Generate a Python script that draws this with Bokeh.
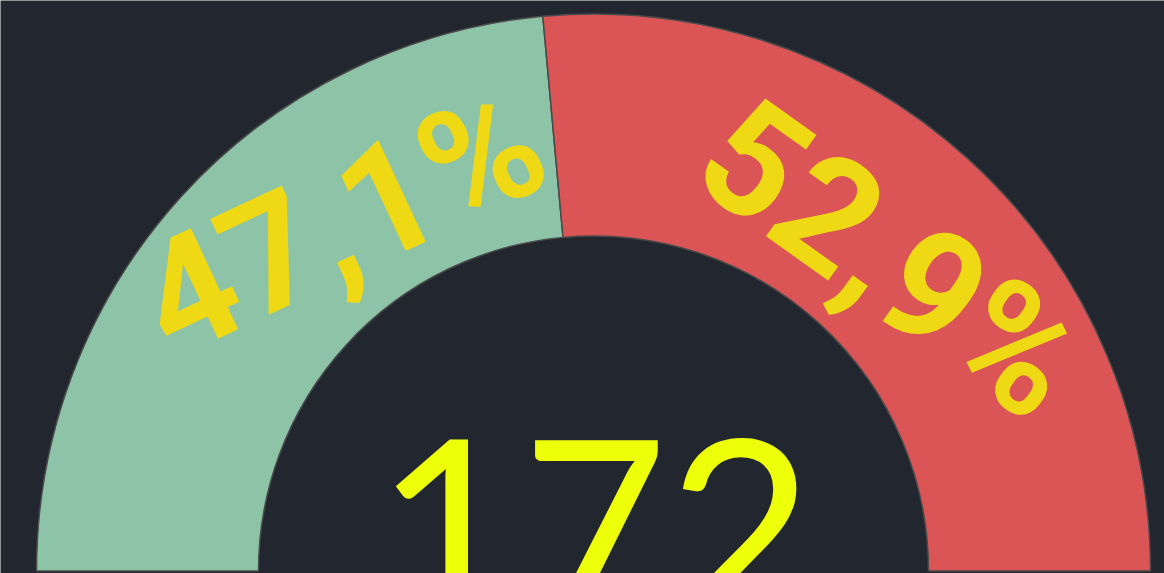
import math
from bokeh.plotting import figure
from bokeh.models import ColumnDataSource, Range1d
from bokeh.core.properties import value
from bokeh.embed import file_html
from bokeh.resources import INLINE

# ---- data ----
categories = ["Grün", "Rot"]
shares = [47.1, 52.9]          # percent
total = 172                    # centre value
colors = ["#8dc4a8", "#db5456"]

# ---- layout (screen-like pixel units, y up) ----
W, H = 1164, 573
CX, CY = 593.0, H - 570.5
R_OUT, R_IN = 557.0, 335.0
BG = "#22262f"
LABEL_COLOR = "#efd915"
CENTER_COLOR = "#eeff0a"
label_angle_deg = [125.8, 46.4]   # where each label sits on the ring
label_radius = 431.0
label_rot_deg = [25.0, -35.5]     # text rotation

# wedge angles: start at 180 deg, go clockwise
starts, ends = [], []
cur = math.pi
for s in shares:
    span = s / 100.0 * math.pi
    starts.append(cur - span)
    ends.append(cur)
    cur -= span

src = ColumnDataSource(dict(cat=categories, start=starts, end=ends, color=colors))

p = figure(width=W, height=H, output_backend="svg", toolbar_location=None,
           x_range=Range1d(0, W), y_range=Range1d(0, H),
           min_border=0, x_axis_location=None, y_axis_location=None)
p.background_fill_color = BG
p.border_fill_color = BG
p.outline_line_color = None
p.xgrid.visible = False
p.ygrid.visible = False

p.annular_wedge(x=CX, y=CY, inner_radius=R_IN, outer_radius=R_OUT,
                start_angle="start", end_angle="end", fill_color="color",
                line_color="#4a4a4a", line_width=1.5, source=src)

labels = [f"{s:.1f}".replace(".", ",") + "%" for s in shares]
lx = [CX + label_radius * math.cos(math.radians(a)) for a in label_angle_deg]
ly = [CY + label_radius * math.sin(math.radians(a)) for a in label_angle_deg]
lsrc = ColumnDataSource(dict(x=lx, y=ly, text=labels,
                             angle=[math.radians(r) for r in label_rot_deg]))
p.text(x="x", y="y", text="text", angle="angle", source=lsrc,
       text_font=value("Roboto"), text_font_style="bold", text_font_size="157px",
       text_color=LABEL_COLOR, text_align="center", text_baseline="middle")

p.text(x=[CX + 1], y=[44], text=[str(total)],
       text_font=value("Lato"), text_font_size="252px",
       text_color=CENTER_COLOR, text_align="center", text_baseline="alphabetic")

open("out.html", "w").write(file_html(p, INLINE))
